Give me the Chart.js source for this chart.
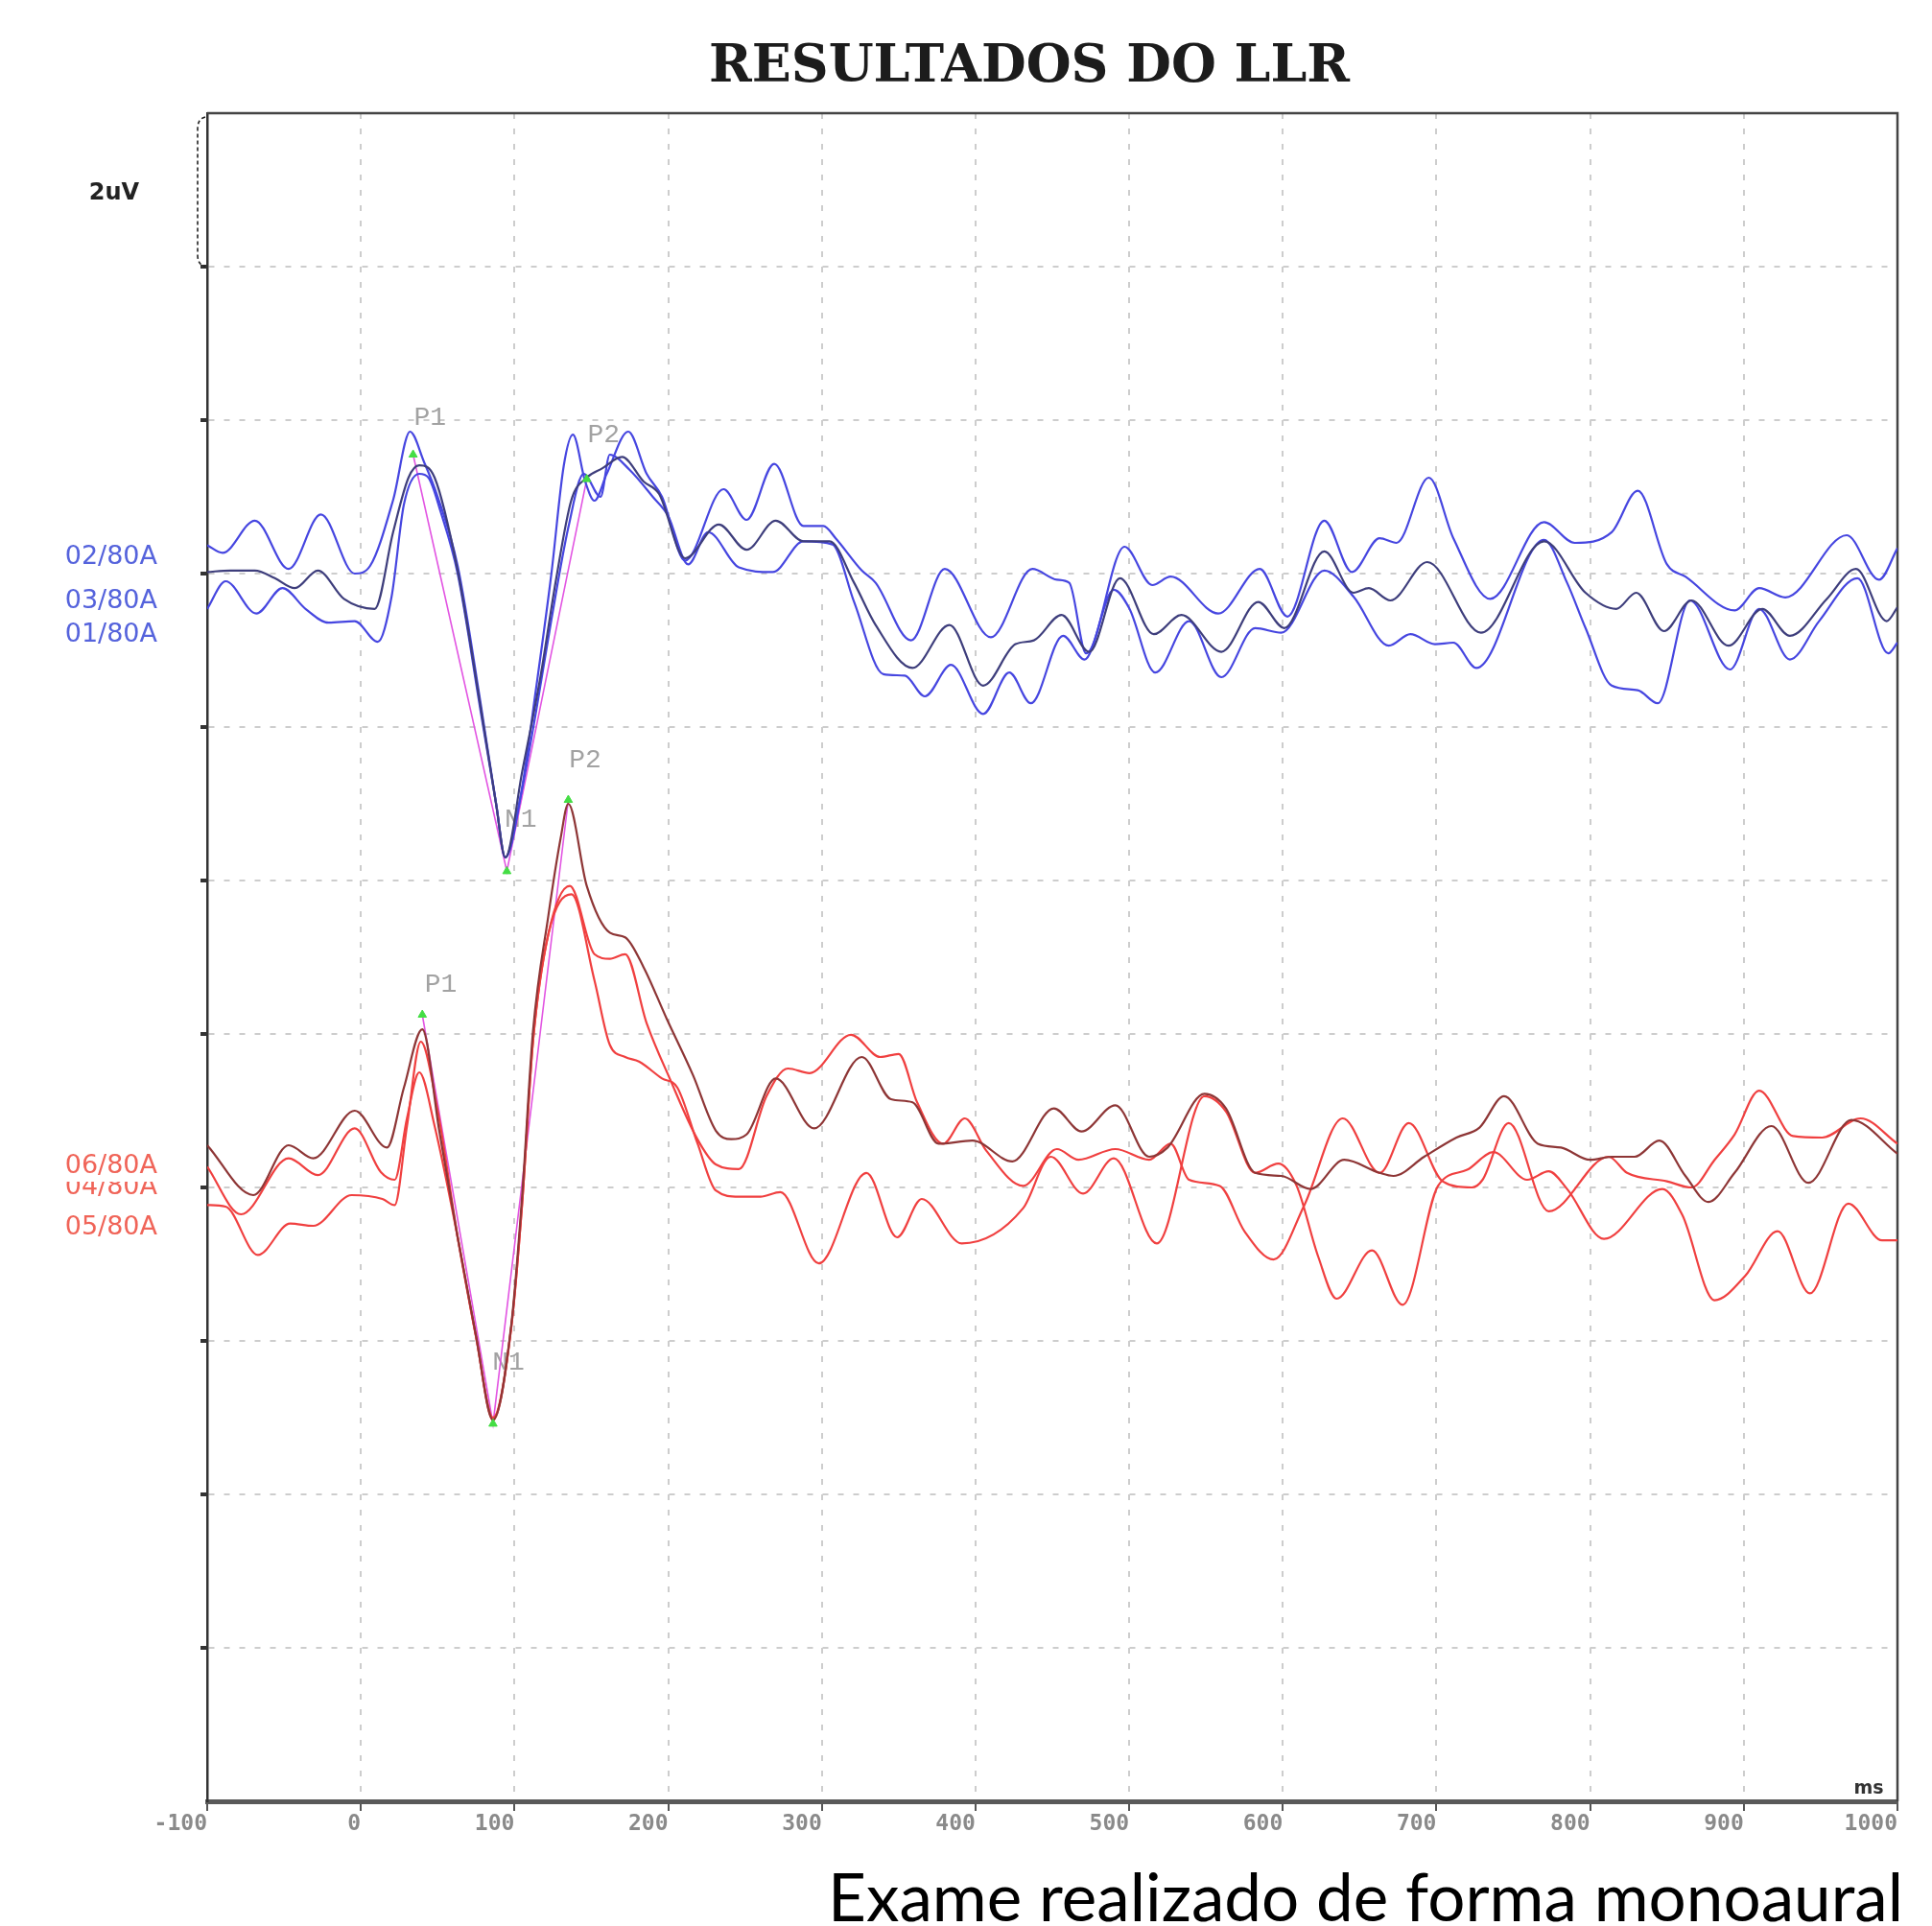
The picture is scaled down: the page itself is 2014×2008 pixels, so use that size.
<!DOCTYPE html>
<html>
<head>
<meta charset="utf-8">
<title>Resultados do LLR</title>
<script src="https://cdn.jsdelivr.net/npm/chart.js@4.4.0/dist/chart.umd.min.js"></script>
<style>
  html, body { margin: 0; padding: 0; background: #fff; }
  #wrap { position: relative; width: 2014px; height: 2008px; }
</style>
</head>
<body>
<div id="wrap"><canvas id="llr" width="2014" height="2008"></canvas></div>
<script>
// axis ticks (ms on x, uV on y, 2 uV per division)
const msTicks = [-100, 0, 100, 200, 300, 400, 500, 600, 700, 800, 900, 1000];
const uvTicks = [0, 2, 4, 6, 8, 10, 12, 14, 16, 18, 20, 22];

// where each group of traces sits on the uV axis
const blueBase = 16;
const redBase = 8;

const blueChannels = ['02/80A', '03/80A', '01/80A'];
const redChannels = ['06/80A', '04/80A', '05/80A'];

// blue group (ms / uV from baseline)
const msB02 = [-100,-90,-69,-47,-26,-4,6,21,32,41,50,63,78,88,94,104,114,124,132,138,146,152,160,174,186,196,211,236,251,269,288,301,309,326,335,358,380,410,437,453,461,472,497,515,527,558,585,603,627,645,663,674,695,711,735,770,790,814,831,850,862,894,910,927,967,988,1000];
const uvB02 = [0.37,0.27,0.69,0.06,0.77,0.0,0.1,0.96,1.85,1.46,1.0,0.1,-1.7,-3.0,-3.7,-2.9,-1.5,0.0,1.4,1.81,1.2,0.95,1.3,1.85,1.3,1.0,0.17,1.1,0.7,1.43,0.62,0.62,0.46,0.04,-0.12,-0.87,0.06,-0.83,0.06,-0.08,-0.12,-1.04,0.35,-0.15,-0.04,-0.52,0.06,-0.56,0.69,0.02,0.46,0.40,1.25,0.46,-0.33,0.67,0.4,0.54,1.08,0.12,-0.04,-0.48,-0.19,-0.31,0.5,-0.08,0.33];

const msB03 = [-100,-85,-69,-56,-43,-28,-11,9,21,31,38,48,63,78,88,94,105,117,127,137,147,157,170,184,194,211,233,251,270,288,305,321,335,359,383,405,426,438,456,474,494,516,534,560,584,601,627,646,656,670,694,729,770,797,817,830,848,866,890,912,930,954,973,993,1000];
const uvB03 = [0.02,0.04,0.04,-0.06,-0.19,0.04,-0.33,-0.46,0.54,1.25,1.41,1.25,0.04,-1.75,-3.0,-3.7,-2.58,-1.33,-0.08,0.96,1.25,1.37,1.52,1.2,1.04,0.2,0.64,0.31,0.69,0.42,0.42,-0.12,-0.67,-1.23,-0.67,-1.46,-0.92,-0.87,-0.54,-1.02,-0.06,-0.79,-0.54,-1.02,-0.37,-0.71,0.29,-0.25,-0.19,-0.35,0.15,-0.77,0.42,-0.25,-0.46,-0.25,-0.75,-0.35,-0.94,-0.46,-0.81,-0.33,0.06,-0.62,-0.44];

const msB01 = [-100,-88,-68,-51,-36,-21,-4,11,20,28,38,44,52,63,78,88,94,104,114,124,135,145,156,162,175,190,200,213,226,246,268,288,307,321,340,354,367,384,405,422,436,457,471,490,500,517,539,560,582,599,627,646,669,683,699,711,726,770,785,797,814,831,844,865,891,910,930,949,974,994,1000];
const uvB01 = [-0.46,-0.1,-0.52,-0.19,-0.46,-0.64,-0.62,-0.89,-0.3,0.9,1.3,1.25,0.8,0.0,-1.8,-3.0,-3.7,-2.9,-1.8,-0.6,0.6,1.3,1.0,1.55,1.35,1.0,0.75,0.12,0.54,0.08,0.02,0.42,0.38,-0.37,-1.31,-1.33,-1.6,-1.19,-1.83,-1.29,-1.69,-0.81,-1.12,-0.21,-0.45,-1.29,-0.62,-1.35,-0.71,-0.77,0.04,-0.3,-0.94,-0.79,-0.92,-0.9,-1.23,0.44,-0.12,-0.71,-1.46,-1.52,-1.69,-0.35,-1.25,-0.46,-1.12,-0.62,-0.06,-1.04,-0.9];

// red group
const msR06 = [-100,-78,-47,-28,-4,13,22,30,38,48,63,75,86,98,105,112,122,136,152,162,172,186,201,219,231,246,264,278,292,319,338,350,362,379,393,407,431,453,467,491,513,527,539,559,575,594,614,639,663,682,704,723,730,747,773,812,824,850,866,881,894,910,932,951,976,1000];
const uvR06 = [0.27,-0.35,0.38,0.16,0.77,0.2,0.1,0.9,1.5,0.8,-0.65,-1.95,-3.0,-1.8,-0.2,1.9,3.3,3.93,3.04,2.98,3.04,2.14,1.42,0.63,0.3,0.24,1.19,1.55,1.49,1.99,1.70,1.74,1.11,0.57,0.90,0.48,0.02,0.50,0.36,0.50,0.36,0.57,0.10,0.02,-0.57,-0.94,-0.23,0.90,0.19,0.84,0.08,0.0,0.10,0.84,-0.31,0.40,0.19,0.08,0.0,0.36,0.69,1.26,0.67,0.65,0.90,0.57];

const msR04 = [-100,-70,-47,-31,-4,17,28,40,51,63,75,86,98,105,112,122,130,135,147,162,172,184,199,216,231,241,251,270,295,326,345,359,376,398,424,451,469,491,513,525,549,563,582,599,618,640,663,672,692,713,728,744,766,781,800,814,829,845,862,877,894,918,942,970,1000];
const uvR04 = [0.55,-0.1,0.55,0.38,1.0,0.52,1.3,2.06,0.74,-0.65,-1.94,-3.03,-1.77,-0.1,2.03,3.54,4.55,5.0,3.93,3.32,3.26,2.87,2.2,1.47,0.74,0.63,0.69,1.42,0.77,1.70,1.15,1.11,0.57,0.61,0.34,1.03,0.73,1.07,0.40,0.52,1.22,1.03,0.19,0.15,-0.02,0.36,0.19,0.15,0.40,0.65,0.78,1.19,0.57,0.52,0.36,0.40,0.40,0.61,0.15,-0.19,0.19,0.80,0.06,0.88,0.44];

const msR05 = [-100,-88,-67,-46,-31,-6,14,22,30,39,50,63,75,86,98,105,112,122,137,152,162,172,181,196,206,219,231,246,260,273,298,329,349,365,391,431,449,470,490,518,549,563,582,597,609,623,635,658,678,701,720,737,759,773,785,809,847,860,881,901,922,943,968,990,1000];
const uvR05 = [-0.23,-0.25,-0.88,-0.47,-0.5,-0.1,-0.15,-0.23,0.8,1.9,1.0,-0.65,-1.95,-3.03,-1.8,-0.2,1.9,3.3,3.82,2.7,1.86,1.7,1.64,1.42,1.3,0.58,-0.04,-0.12,-0.12,-0.06,-0.99,0.19,-0.65,-0.15,-0.73,-0.27,0.40,-0.08,0.38,-0.73,1.19,0.99,0.19,0.31,0.02,-0.90,-1.45,-0.82,-1.53,0.02,0.23,0.46,0.10,0.21,-0.02,-0.67,-0.02,-0.36,-1.47,-1.15,-0.57,-1.38,-0.21,-0.69,-0.69];

// P1 / N1 / P2 picks (green marks joined by the pink line)
const peakNames = ['P1', 'N1', 'P2'];
const bluePeakMs = [34, 95, 147];
const bluePeakUv = [1.55, -3.88, 1.23];
const redPeakMs = [40, 86, 135];
const redPeakUv = [2.25, -3.08, 5.05];
// where the grey peak names sit
const blueTagMs = [45, 104, 158];
const blueTagUv = [2.03, -3.21, 1.81];
const redTagMs = [52, 96, 146];
const redTagUv = [2.64, -2.28, 5.57];

function toPoints(ms, uv, base) {
  return ms.map((t, i) => ({ x: t, y: base + uv[i] }));
}

function traceSet(label, ms, uv, base, color, order) {
  return {
    label: label,
    data: toPoints(ms, uv, base),
    borderColor: color,
    borderWidth: 2.2,
    pointRadius: 0,
    cubicInterpolationMode: 'monotone',
    fill: false,
    order: order
  };
}

function pickLine(ms, uv, base) {
  return {
    data: toPoints(ms, uv, base),
    borderColor: '#e255e2',
    borderWidth: 1.6,
    tension: 0,
    pointRadius: 0,
    order: 10
  };
}

function pickMarks(ms, uv, base) {
  return {
    data: toPoints(ms, uv, base),
    showLine: false,
    pointStyle: 'triangle',
    pointRadius: 5,
    pointBackgroundColor: '#44dd44',
    pointBorderColor: '#44dd44',
    order: 0
  };
}

// draw text squeezed/stretched to a given width
function fitText(ctx, text, x, y, width, align) {
  const w = ctx.measureText(text).width;
  ctx.save();
  ctx.translate(x, y);
  ctx.scale(width / w, 1);
  ctx.textAlign = align;
  ctx.fillText(text, 0, 0);
  ctx.restore();
}

const llrDecor = {
  id: 'llrDecor',
  beforeDatasetsDraw(chart) {
    const ctx = chart.ctx;
    const xs = chart.scales.x, ys = chart.scales.y;
    const area = chart.chartArea;
    ctx.save();

    // grey peak names, traces go over them
    ctx.fillStyle = '#a2a2a2';
    ctx.font = '28px "Liberation Mono"';
    ctx.textAlign = 'center';
    ctx.textBaseline = 'middle';
    peakNames.forEach((n, i) => {
      ctx.fillText(n, xs.getPixelForValue(blueTagMs[i]), ys.getPixelForValue(blueBase + blueTagUv[i]));
      ctx.fillText(n, xs.getPixelForValue(redTagMs[i]), ys.getPixelForValue(redBase + redTagUv[i]));
    });

    // frame top and right
    ctx.strokeStyle = '#444';
    ctx.lineWidth = 2.5;
    ctx.beginPath();
    ctx.moveTo(area.left, area.top);
    ctx.lineTo(area.right, area.top);
    ctx.lineTo(area.right, area.bottom);
    ctx.stroke();

    // 2uV bracket
    const yTop = ys.getPixelForValue(22), yDiv = ys.getPixelForValue(20);
    ctx.strokeStyle = '#222';
    ctx.lineWidth = 1.6;
    ctx.setLineDash([4, 3]);
    ctx.beginPath();
    ctx.moveTo(area.left - 2, yTop + 4);
    ctx.quadraticCurveTo(area.left - 10, yTop + 6, area.left - 10, yTop + 16);
    ctx.lineTo(area.left - 10, yDiv - 12);
    ctx.quadraticCurveTo(area.left - 10, yDiv - 2, area.left - 2, yDiv);
    ctx.stroke();
    ctx.setLineDash([]);

    ctx.fillStyle = '#222';
    ctx.font = 'bold 24px "DejaVu Sans"';
    ctx.textAlign = 'center';
    ctx.fillText('2uV', 119, (yTop + yDiv) / 2 + 4);

    // channel names
    ctx.font = '27px "DejaVu Sans"';
    ctx.textAlign = 'right';
    const bY = ys.getPixelForValue(blueBase);
    const bOff = [-17, 29, 64];
    ctx.fillStyle = '#5563dc';
    blueChannels.forEach((c, i) => ctx.fillText(c, 164, bY + bOff[i]));

    const rY = ys.getPixelForValue(redBase);
    ctx.fillStyle = '#f06458';
    ctx.fillText(redChannels[1], 164, rY);
    ctx.fillStyle = '#fff';
    ctx.fillRect(55, rY - 40, 115, 34);
    ctx.fillStyle = '#f06458';
    ctx.fillText(redChannels[0], 164, rY - 22);
    ctx.fillText(redChannels[2], 164, rY + 42);

    // unit on the time axis
    ctx.fillStyle = '#333';
    ctx.font = 'bold 19px "DejaVu Sans"';
    ctx.textAlign = 'center';
    ctx.fillText('ms', area.right - 30, area.bottom - 13);
    ctx.restore();
  },
  afterDraw(chart) {
    const ctx = chart.ctx;
    ctx.save();
    ctx.textBaseline = 'alphabetic';
    ctx.fillStyle = '#1c1c1c';
    ctx.font = 'bold 54px "DejaVu Serif"';
    fitText(ctx, 'RESULTADOS DO LLR', 1073, 85, 668, 'center');

    ctx.fillStyle = '#000';
    ctx.font = '70px Lato';
    fitText(ctx, 'Exame realizado de forma monoaural', 1984, 2003, 1121, 'right');
    ctx.restore();
  }
};

const edgeX = v => v === msTicks[0] || v === msTicks[msTicks.length - 1];
const edgeY = v => v === uvTicks[0] || v === uvTicks[uvTicks.length - 1];

new Chart(document.getElementById('llr'), {
  type: 'line',
  data: {
    datasets: [
      pickLine(bluePeakMs, bluePeakUv, blueBase),
      pickLine(redPeakMs, redPeakUv, redBase),
      traceSet('02/80A', msB02, uvB02, blueBase, '#4646e0', 3),
      traceSet('01/80A', msB01, uvB01, blueBase, '#4646e0', 4),
      traceSet('03/80A', msB03, uvB03, blueBase, '#3e3e7c', 2),
      traceSet('06/80A', msR06, uvR06, redBase, '#f04040', 3),
      traceSet('05/80A', msR05, uvR05, redBase, '#f04040', 4),
      traceSet('04/80A', msR04, uvR04, redBase, '#8e3636', 2),
      pickMarks(bluePeakMs, bluePeakUv, blueBase),
      pickMarks(redPeakMs, redPeakUv, redBase)
    ]
  },
  options: {
    responsive: false,
    animation: false,
    devicePixelRatio: 1,
    layout: { padding: { top: 118, right: 36, left: 0, bottom: 0 } },
    plugins: {
      legend: { display: false },
      tooltip: { enabled: false },
      title: { display: false }
    },
    scales: {
      x: {
        type: 'linear',
        min: -100,
        max: 1000,
        afterBuildTicks: s => { s.ticks = msTicks.map(v => ({ value: v })); },
        afterFit: s => { s.height = 130; },
        ticks: {
          align: 'end',
          autoSkip: false,
          maxRotation: 0,
          padding: 0,
          color: '#8a8a8a',
          font: { family: 'DejaVu Sans Mono', size: 23, weight: 'bold' },
          callback: v => String(v)
        },
        grid: {
          color: c => (c.tick && edgeX(c.tick.value)) ? 'rgba(0,0,0,0)' : '#cdcdcd',
          lineWidth: 2,
          tickColor: '#555',
          tickLength: 10,
          tickWidth: 2
        },
        border: { color: '#5a5a5a', width: 5, dash: [6, 10] }
      },
      y: {
        min: 0,
        max: 22,
        afterBuildTicks: s => { s.ticks = uvTicks.map(v => ({ value: v })); },
        afterFit: s => { s.width = 216; },
        ticks: { display: false },
        grid: {
          color: c => (c.tick && edgeY(c.tick.value)) ? 'rgba(0,0,0,0)' : '#cdcdcd',
          lineWidth: 2,
          tickColor: c => (c.tick && edgeY(c.tick.value)) ? 'rgba(0,0,0,0)' : '#333',
          tickLength: 7,
          tickWidth: 4
        },
        border: { color: '#333', width: 2.5, dash: [6, 10] }
      }
    }
  },
  plugins: [llrDecor]
});
</script>
</body>
</html>
